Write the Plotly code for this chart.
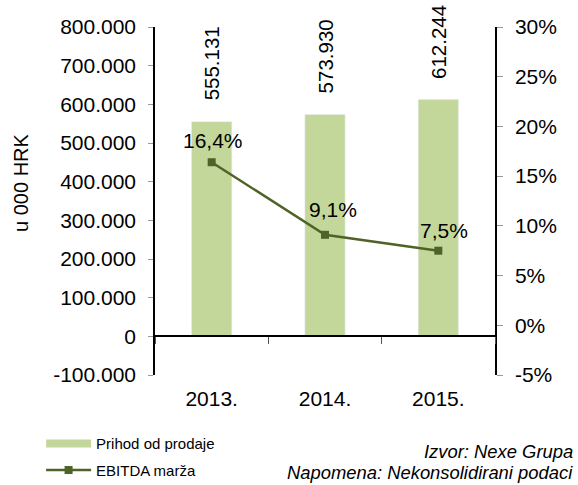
import plotly.graph_objects as go

years = ["2013.", "2014.", "2015."]
revenue = [555131, 573930, 612244]
ebitda_margin = [16.4, 9.1, 7.5]

left_ticks = [-100000, 0, 100000, 200000, 300000, 400000, 500000, 600000, 700000, 800000]
left_tick_labels = ["-100.000", "0", "100.000", "200.000", "300.000", "400.000",
                    "500.000", "600.000", "700.000", "800.000"]
right_ticks = [-5, 0, 5, 10, 15, 20, 25, 30]
right_tick_labels = ["-5%", "0%", "5%", "10%", "15%", "20%", "25%", "30%"]

bar_color = "#c4d79b"
line_color = "#4f6228"
font_family = "Liberation Sans, Arial, sans-serif"


def fmt_thousands(v):
    return f"{v:,}".replace(",", ".")


def fmt_pct(v):
    return f"{v:.1f}".replace(".", ",") + "%"


fig = go.Figure()
fig.add_trace(go.Bar(
    x=years, y=revenue, name="Prihod od prodaje", showlegend=False,
    marker_color=bar_color, width=0.355, yaxis="y",
))
# legend entry drawn as a wide band, like the original's swatch
fig.add_trace(go.Scatter(
    x=[None], y=[None], name="Prihod od prodaje", legendgroup="a",
    mode="lines", line=dict(color=bar_color, width=8), yaxis="y",
))
fig.add_trace(go.Scatter(
    x=years, y=ebitda_margin, name="EBITDA marža", legendgroup="b",
    mode="lines+markers", yaxis="y2",
    line=dict(color=line_color, width=2.5),
    marker=dict(symbol="square", size=8, color=line_color),
))

annotations = []
for i, v in enumerate(revenue):
    annotations.append(dict(
        x=i, y=v, xref="x", yref="y", text=fmt_thousands(v),
        textangle=-90, showarrow=False, yanchor="bottom", yshift=19,
        font=dict(size=20.5, color="black", family=font_family),
    ))
pct_offsets = [(1, 8), (8, 12), (6, 7)]
for i, v in enumerate(ebitda_margin):
    dx, dy = pct_offsets[i]
    annotations.append(dict(
        x=i, y=v, xref="x", yref="y2", text=fmt_pct(v),
        showarrow=False, yanchor="bottom", xshift=dx, yshift=dy,
        font=dict(size=21, color="black", family=font_family),
    ))
annotations.append(dict(
    x=-0.394, y=0.552, xref="paper", yref="paper", text="u 000 HRK",
    textangle=-90, showarrow=False, xanchor="center", yanchor="middle",
    font=dict(size=20, color="black", family=font_family),
))
annotations.append(dict(
    x=1.235, y=-0.221, xref="paper", yref="paper", text="Izvor: Nexe Grupa",
    showarrow=False, xanchor="right", yanchor="middle",
    font=dict(size=18.4, color="black", family=font_family, style="italic"),
))
annotations.append(dict(
    x=1.235, y=-0.279, xref="paper", yref="paper",
    text="Napomena: Nekonsolidirani podaci",
    showarrow=False, xanchor="right", yanchor="middle",
    font=dict(size=18.4, color="black", family=font_family, style="italic"),
))

fig.update_layout(
    width=578, height=485,
    margin=dict(l=155, r=83, t=27, b=110, autoexpand=False),
    paper_bgcolor="white", plot_bgcolor="white",
    separators=",.",
    font=dict(family=font_family, size=21, color="black"),
    showlegend=True,
    legend=dict(
        x=-0.335, y=-0.15, xanchor="left", yanchor="top",
        font=dict(size=15, color="black", family=font_family),
        tracegroupgap=4, bgcolor="rgba(0,0,0,0)", itemwidth=45,
    ),
    xaxis=dict(
        type="category", anchor="free", position=100000 / 900000,
        range=[-0.5, 2.5],
        showline=True, linecolor="black", linewidth=1.5,
        ticks="outside", tickson="boundaries", ticklen=7, tickcolor="#555",
        ticklabelstandoff=44, showgrid=False, zeroline=False,
        tickfont=dict(size=21), tickangle=0,
    ),
    yaxis=dict(
        range=[-100000, 800000], tickmode="array",
        tickvals=left_ticks, ticktext=left_tick_labels,
        showline=True, linecolor="black", linewidth=1.5,
        ticks="outside", ticklen=5, tickcolor="#999", ticklabelstandoff=8,
        showgrid=False, zeroline=False, tickfont=dict(size=21),
    ),
    yaxis2=dict(
        range=[-5, 30], tickmode="array",
        tickvals=right_ticks, ticktext=right_tick_labels,
        overlaying="y", side="right",
        showline=True, linecolor="black", linewidth=1.5,
        ticks="outside", ticklen=6, tickcolor="#999", ticklabelstandoff=8,
        showgrid=False, zeroline=False, tickfont=dict(size=21),
    ),
    annotations=annotations,
)

fig.write_html(
    "out.html",
    config={"displayModeBar": False},
    post_script="document.body.style.margin='0';document.body.style.overflow='hidden';",
)
